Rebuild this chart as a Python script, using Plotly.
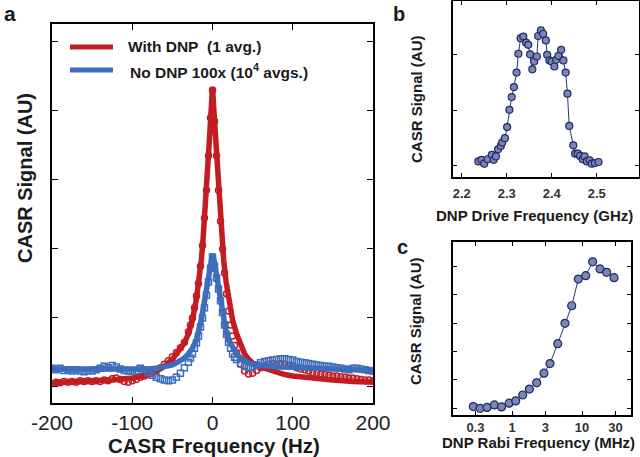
import plotly.graph_objects as go

# ---------------- Panel a data ----------------
freq_data = [-200, -195, -190, -185, -180, -175, -170, -165, -160, -155, -150, -145, -140, -135,
             -130, -125, -120, -115, -110, -105, -100, -95, -90, -85, -80, -75, -70, -65, -60,
             -55, -50, -45, -40, -35,
             -30, -27.5, -25, -22.5, -20, -17.5, -15, -12.5, -10, -7.5, -5, -2.5, 0, 2.5, 5,
             7.5, 10, 12.5, 15, 17.5, 20, 22.5, 25, 27.5, 30,
             35, 40, 45, 50, 55, 60, 65, 70, 75, 80, 85, 90, 95, 100, 105, 110, 115, 120, 125,
             130, 135, 140, 145, 150, 155, 160, 165, 170, 175, 180, 185, 190, 195, 200]

red_data = [0.05, 0.07, 0.06, 0.08, 0.07, 0.08, 0.07, 0.09, 0.08, 0.09, 0.08, 0.09, 0.08, 0.10,
            0.09, 0.12, 0.13, 0.11, 0.08, 0.07, 0.09, 0.11, 0.14, 0.16, 0.18, 0.20, 0.24, 0.28,
            0.33, 0.38, 0.44, 0.50, 0.57, 0.65,
            0.80, 0.90, 1.00, 1.15, 1.32, 1.50, 1.75, 2.05, 2.45, 2.85, 3.35, 3.90, 4.30, 3.85,
            3.35, 2.85, 2.40, 2.00, 1.65, 1.35, 1.10, 0.90, 0.74, 0.60, 0.50,
            0.33, 0.23, 0.19, 0.20, 0.24, 0.28, 0.31, 0.33, 0.34, 0.33, 0.34, 0.33, 0.31, 0.30,
            0.28, 0.26, 0.25, 0.23, 0.21, 0.20, 0.19, 0.18, 0.17, 0.16, 0.16, 0.15, 0.14, 0.13,
            0.13, 0.12, 0.11, 0.10, 0.10, 0.09]

blue_data = [0.27, 0.25, 0.27, 0.24, 0.25, 0.23, 0.25, 0.23, 0.22, 0.24, 0.23, 0.25, 0.27, 0.30,
             0.28, 0.31, 0.29, 0.26, 0.24, 0.23, 0.23, 0.24, 0.27, 0.25, 0.21, 0.17, 0.14, 0.12,
             0.10, 0.09, 0.10, 0.14, 0.20, 0.28,
             0.36, 0.42, 0.48, 0.56, 0.64, 0.74, 0.87, 1.00, 1.15, 1.33, 1.52, 1.72, 1.88, 1.75,
             1.58, 1.42, 1.25, 1.08, 0.90, 0.76, 0.65, 0.56, 0.48, 0.43, 0.40,
             0.34, 0.30, 0.28, 0.29, 0.32, 0.35, 0.37, 0.38, 0.39, 0.40, 0.41, 0.41, 0.40, 0.39,
             0.37, 0.36, 0.35, 0.34, 0.33, 0.32, 0.31, 0.30, 0.30, 0.29, 0.28, 0.27, 0.26, 0.25,
             0.27, 0.27, 0.26, 0.25, 0.24, 0.23]

freq_fit = [-200, -175, -150, -125, -100, -90, -80, -70, -60, -50, -45, -40, -35, -30, -25, -20,
            -17, -14, -12, -10, -8, -6, -4, -2, 0, 2, 4, 6, 8, 10, 12, 14, 17, 20, 25, 30, 35,
            40, 45, 50, 60, 70, 80, 90, 100, 125, 150, 175, 200]

red_fit = [0.06, 0.07, 0.08, 0.10, 0.13, 0.15, 0.18, 0.23, 0.30, 0.40, 0.47, 0.55, 0.64, 0.77,
           0.97, 1.28, 1.52, 1.83, 2.10, 2.40, 2.75, 3.15, 3.55, 3.95, 4.35, 3.95, 3.55, 3.15,
           2.75, 2.40, 2.10, 1.83, 1.52, 1.28, 0.97, 0.77, 0.60, 0.48, 0.40, 0.35, 0.29, 0.25,
           0.21, 0.18, 0.16, 0.12, 0.10, 0.08, 0.07]

blue_fit = [0.26, 0.26, 0.25, 0.25, 0.25, 0.26, 0.26, 0.27, 0.29, 0.32, 0.35, 0.38, 0.42, 0.48,
            0.56, 0.68, 0.80, 0.97, 1.10, 1.24, 1.40, 1.54, 1.68, 1.83, 1.93, 1.83, 1.68, 1.54,
            1.40, 1.24, 1.10, 0.97, 0.80, 0.68, 0.56, 0.48, 0.42, 0.38, 0.35, 0.33, 0.31, 0.30,
            0.29, 0.29, 0.28, 0.27, 0.26, 0.25, 0.24]

legend_red = "With DNP&nbsp; (1 avg.)"
legend_blue = "No DNP 100x (10<sup>4</sup> avgs.)"

# ---------------- Panel b data ----------------
drive_freq = [2.237, 2.244, 2.250, 2.258, 2.267, 2.271, 2.276, 2.281, 2.287, 2.290,
              2.296, 2.301, 2.306, 2.311, 2.316, 2.322, 2.326, 2.331, 2.337, 2.343,
              2.348, 2.352, 2.357, 2.361, 2.367, 2.370, 2.376, 2.381, 2.387, 2.390,
              2.395, 2.400, 2.406, 2.410, 2.415, 2.421, 2.426, 2.431, 2.435, 2.439,
              2.448, 2.452, 2.458, 2.463, 2.469, 2.473, 2.478, 2.484, 2.489, 2.496, 2.504]
drive_signal = [0.08, 0.11, 0.04, 0.12, 0.20, 0.11, 0.17, 0.30, 0.36, 0.42,
                0.50, 0.70, 1.01, 1.24, 1.42, 1.68, 2.02, 2.30, 2.33, 2.22,
                2.18, 2.01, 1.74, 1.88, 1.97, 2.34, 2.44, 2.38, 2.26, 2.00,
                1.90, 1.88, 1.79, 1.91, 1.98, 2.09, 1.90, 1.68, 1.30, 0.72,
                0.37, 0.22, 0.22, 0.18, 0.12, 0.17, 0.08, 0.10, 0.04, 0.05, 0.07]
drive_ticks = [2.2, 2.3, 2.4, 2.5]
drive_ticktext = ["2.2", "2.3", "2.4", "2.5"]

# ---------------- Panel c data ----------------
rabi_freq = [0.28, 0.35, 0.44, 0.56, 0.71, 0.91, 1.13, 1.42, 1.77, 2.25, 2.86, 3.49, 4.5,
             5.71, 7.13, 8.85, 11.3, 14.2, 18.1, 22.5, 28.7]
rabi_signal = [0.06, 0.00, 0.03, 0.12, 0.05, 0.18, 0.26, 0.47, 0.68, 0.90, 1.24, 1.58, 2.28,
               3.00, 3.62, 4.56, 4.68, 5.17, 4.92, 4.80, 4.61]
rabi_ticks = [0.3, 1, 3, 10, 30]
rabi_ticktext = ["0.3", "1", "3", "10", "30"]

a_xticks = [-200, -100, 0, 100, 200]
a_xticktext = ["-200", "-100", "0", "100", "200"]

# ---------------- Styles ----------------
W, H = 640, 457
RED = "#c21d23"
BLUE = "#3d6dbb"
FONT = "Liberation Sans, Arial, sans-serif"
TXT = "#1a1a1a"
MK_FILL = "#7a86b8"
MK_EDGE = "#1f2a5e"
LN = "#2a3670"


def px(x):
    return x / W


def py(y):
    return 1 - y / H


fig = go.Figure()

# panel a
fig.add_trace(go.Scatter(x=freq_fit, y=red_fit, mode="lines", line=dict(color=RED, width=5.5),
                         showlegend=False, xaxis="x", yaxis="y"))
fig.add_trace(go.Scatter(x=freq_data, y=red_data, mode="markers",
                         marker=dict(symbol="circle-open", color=RED, size=6, line=dict(width=1.5)),
                         showlegend=False, xaxis="x", yaxis="y"))
fig.add_trace(go.Scatter(x=freq_fit, y=blue_fit, mode="lines", line=dict(color=BLUE, width=5.5),
                         showlegend=False, xaxis="x", yaxis="y"))
fig.add_trace(go.Scatter(x=freq_data, y=blue_data, mode="markers",
                         marker=dict(symbol="square-open", color=BLUE, size=6, line=dict(width=1.5)),
                         showlegend=False, xaxis="x", yaxis="y"))

# panel b
fig.add_trace(go.Scatter(x=drive_freq, y=drive_signal, mode="lines+markers",
                         line=dict(color=LN, width=1),
                         marker=dict(color=MK_FILL, size=7, line=dict(color=MK_EDGE, width=1.2)),
                         showlegend=False, xaxis="x2", yaxis="y2"))
# panel c
fig.add_trace(go.Scatter(x=rabi_freq, y=rabi_signal, mode="lines+markers",
                         line=dict(color=LN, width=1),
                         marker=dict(color=MK_FILL, size=8, line=dict(color=MK_EDGE, width=1.2)),
                         showlegend=False, xaxis="x3", yaxis="y3"))

axis_common = dict(showgrid=False, zeroline=False, showline=True, linecolor="black",
                   linewidth=1.5, mirror="ticks", ticks="inside", tickcolor="black",
                   tickwidth=1.2, automargin=False)

fig.update_layout(
    width=W, height=H, margin=dict(l=0, r=0, t=0, b=0, pad=0),
    paper_bgcolor="white", plot_bgcolor="white",
    font=dict(family=FONT, color=TXT),
    showlegend=False,
    xaxis=dict(domain=[px(52), px(373)], range=[-200, 200], tickvals=a_xticks,
               ticktext=a_xticktext, ticklen=6, tickfont=dict(size=21, color="#222"),
               anchor="y", **axis_common),
    yaxis=dict(domain=[py(403), py(24)], range=[-0.232, 5.26], tickvals=[0, 1, 2, 3, 4, 5],
               showticklabels=False, ticklen=6, anchor="x", **axis_common),
    xaxis2=dict(domain=[px(453), px(639)], range=[2.1807, 2.594], tickvals=drive_ticks,
                ticktext=drive_ticktext, ticklen=4,
                tickfont=dict(size=13, color="#333", weight="bold"), anchor="y2",
                ticklabelstandoff=4, **axis_common),
    yaxis2=dict(domain=[py(177), py(1)], range=[-0.2, 2.97], tickvals=[0, 1, 2],
                showticklabels=False, ticklen=4, anchor="x2", **axis_common),
    xaxis3=dict(domain=[px(453), px(631)], type="log", range=[-0.843, 1.7], tickvals=rabi_ticks,
                ticktext=rabi_ticktext, ticklen=4,
                tickfont=dict(size=13, color="#333", weight="bold"), anchor="y3",
                **axis_common),
    yaxis3=dict(domain=[py(415), py(242)], range=[-0.236, 5.87], tickvals=[0, 1, 2, 3, 4, 5],
                showticklabels=False, ticklen=4, anchor="x3", **axis_common),
)

ann = []


def add_text(text, x, y, size, angle=0, xanchor="center", bold=True):
    ann.append(dict(text=text, x=px(x), y=py(y), xref="paper", yref="paper",
                    showarrow=False, xanchor=xanchor, yanchor="middle", textangle=angle,
                    font=dict(size=size, family=FONT, color=TXT,
                              weight="bold" if bold else "normal")))


add_text("a", 2, 13, 21, xanchor="left")
add_text("b", 399, 14, 20)
add_text("c", 402, 247, 20)
add_text("CASR Signal (AU)", 25, 178, 20, angle=-90)
add_text("CASR Frequency (Hz)", 214, 445, 20.5)
add_text("CASR Signal (AU)", 416, 99, 15, angle=-90)
add_text("DNP Drive Frequency (GHz)", 534, 215, 15)
add_text("CASR Signal (AU)", 415, 321, 15, angle=-90)
add_text("DNP Rabi Frequency (MHz)", 538, 442, 15)
add_text(legend_red, 126, 46, 15.5, xanchor="left")
add_text(legend_blue, 128, 71, 15.5, xanchor="left")

fig.update_layout(annotations=ann)

fig.add_shape(type="line", xref="paper", yref="paper", x0=px(70), x1=px(113), y0=py(47),
              y1=py(47), line=dict(color=RED, width=5))
fig.add_shape(type="line", xref="paper", yref="paper", x0=px(70), x1=px(113), y0=py(70),
              y1=py(70), line=dict(color=BLUE, width=5))

fig.write_html("out.html")
